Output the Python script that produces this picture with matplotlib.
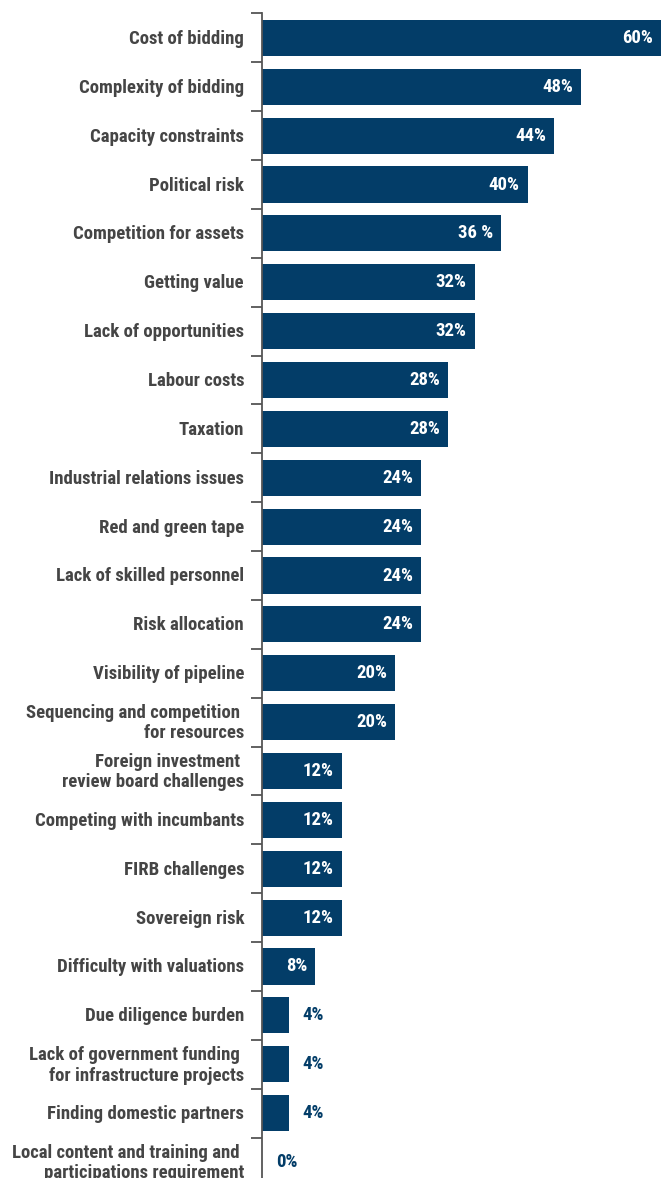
import matplotlib
matplotlib.use("Agg")
import matplotlib.pyplot as plt

# survey results: barriers to investment, share of respondents
categories = [
    "Cost of bidding",
    "Complexity of bidding",
    "Capacity constraints",
    "Political risk",
    "Competition for assets",
    "Getting value",
    "Lack of opportunities",
    "Labour costs",
    "Taxation",
    "Industrial relations issues",
    "Red and green tape",
    "Lack of skilled personnel",
    "Risk allocation",
    "Visibility of pipeline",
    "Sequencing and competition \nfor resources",
    "Foreign investment \nreview board challenges",
    "Competing with incumbants",
    "FIRB challenges",
    "Sovereign risk",
    "Difficulty with valuations",
    "Due diligence burden",
    "Lack of government funding \nfor infrastructure projects",
    "Finding domestic partners",
    "Local content and training and \nparticipations requirement",
]
values = [60, 48, 44, 40, 36, 32, 32, 28, 28, 24, 24, 24, 24, 20, 20,
          12, 12, 12, 12, 8, 4, 4, 4, 0]
value_labels = ["60%", "48%", "44%", "40%", "36 %", "32%", "32%", "28%", "28%",
                "24%", "24%", "24%", "24%", "20%", "20%", "12%", "12%", "12%",
                "12%", "8%", "4%", "4%", "4%", "0%"]

navy = "#033d68"
grey = "#454545"
family = "Roboto Condensed"

W, H = 670, 1178
fig = plt.figure(figsize=(W / 100, H / 100), dpi=100)
row = 48.87
top = 13.5
left = 262
ax = fig.add_axes([left / W, (H - top - 24 * row) / H, (W - left) / W, 24 * row / H])

ypos = list(range(len(categories)))
ax.barh(ypos, values, height=0.74, color=navy)
ax.set_xlim(0, 61.4)
ax.set_ylim(len(categories) - 0.5, -0.5)

for y, v, lab in zip(ypos, values, value_labels):
    if v >= 8:
        ax.text(v - 1.2, y, lab, ha="right", va="center", color="white",
                fontsize=13.5, fontweight="bold", family=family)
    else:
        ax.text(v + 2.1, y, lab, ha="left", va="center", color=navy,
                fontsize=13.5, fontweight="bold", family=family)

# category names on the left of the spine
ax.set_yticks([])
for y, name in zip(ypos, categories):
    ax.annotate(name, xy=(0, y + 0.02), xycoords=("axes fraction", "data"),
                xytext=(-18, 0), textcoords="offset pixels",
                ha="right", va="center", color=grey, fontsize=13.5,
                fontweight="bold", family=family, linespacing=1.2,
                annotation_clip=False)

# separator ticks between rows
ax.set_yticks([y - 0.5 for y in ypos] + [len(categories) - 0.5], minor=True)
ax.tick_params(axis="y", which="minor", length=8, width=1.3, color="#555555",
               direction="out")
ax.set_xticks([])
for s in ["top", "right", "bottom"]:
    ax.spines[s].set_visible(False)
ax.spines["left"].set_color("#555555")
ax.spines["left"].set_linewidth(1.3)

fig.savefig("out.png", dpi=100)
